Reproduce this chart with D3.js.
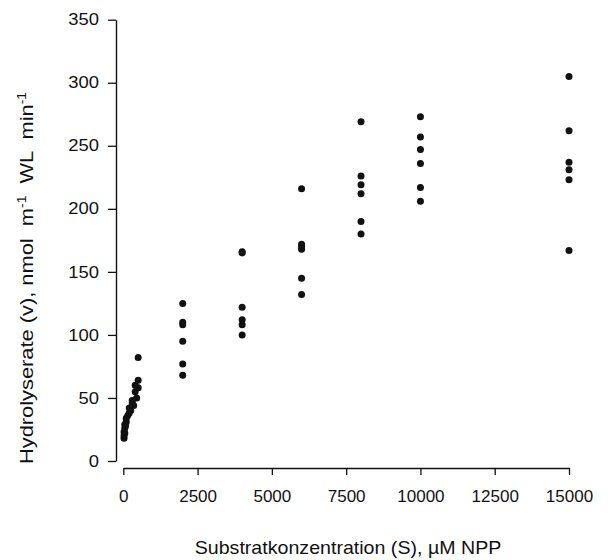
<!DOCTYPE html>
<html><head><meta charset="utf-8">
<script src="https://cdn.jsdelivr.net/npm/d3@7"></script>
<style>
body{margin:0;background:#fff}
svg text{font-family:"Liberation Sans",Arial,Helvetica,sans-serif}
</style></head>
<body><svg id="c" width="608" height="560"></svg>
<script>
// ---- data ----
const lowConc  = [25,25,25,50,50,50,75,100,100,150,200,200,250,300,300,350,400,400,450,500,500,500];
const lowRates = [18,20,23,22,26,29,28,31,34,36,38,42,40,46,48,44,55,60,50,58,64,82];
const concentrations = [2000, 4000, 6000, 8000, 10000, 15000];
const rates2000  = [125,110,108,95,77,68];
const rates4000  = [166,165,122,112,108,100];
const rates6000  = [216,172,170,168,145,132];
const rates8000  = [269,226,219,212,190,180];
const rates10000 = [273,257,247,236,217,206];
const rates15000 = [305,262,237,231,223,167];
const xTicks = [0,2500,5000,7500,10000,12500,15000];
const yTicks = [0,50,100,150,200,250,300,350];
const xTitle = "Substratkonzentration (S), µM NPP";

const columns = [rates2000, rates4000, rates6000, rates8000, rates10000, rates15000];
const points = [];
lowConc.forEach((s,i)=>points.push({s, v: lowRates[i]}));
concentrations.forEach((s,i)=>columns[i].forEach(v=>points.push({s, v})));

// ---- chart ----
const svg = d3.select('#c');
const x = d3.scaleLinear().domain([0,15000]).range([123.3,569]);
const y = d3.scaleLinear().domain([0,350]).range([461,19.7]);
const ink = '#111';
const ff = '"Liberation Sans",Arial,Helvetica,sans-serif';

const gy = svg.append('g').attr('transform','translate(116,0)')
  .call(d3.axisLeft(y).tickValues(yTicks).tickSize(8).tickPadding(8).tickSizeOuter(0))
  .attr('font-family', ff).attr('font-size', 16).attr('color', ink);
gy.select('.domain').attr('stroke-width',1.4);
gy.selectAll('.tick line').attr('stroke-width',1.3);
const sy = 1.15;
gy.selectAll('.tick text').attr('x', -17/sy).attr('transform', `scale(${sy},1)`);

const gx = svg.append('g').attr('transform','translate(0,468)')
  .call(d3.axisBottom(x).tickValues(xTicks).tickSize(7).tickSizeOuter(0).tickFormat(d3.format('d')))
  .attr('font-family', ff).attr('font-size', 17).attr('color', ink);
gx.select('.domain').attr('stroke-width',1.4);
gx.selectAll('.tick line').attr('stroke-width',1.3);
gx.selectAll('.tick text').attr('y', 34).attr('dy', 0);

svg.append('g').selectAll('circle').data(points).join('circle')
  .attr('cx', d=>x(d.s)).attr('cy', d=>y(d.v)).attr('r', 3.5).attr('fill', ink);

svg.append('text').attr('transform','translate(348,554) scale(1.09,1)')
  .attr('text-anchor','middle').attr('font-size',18).attr('fill',ink).text(xTitle);

const yt = svg.append('text').attr('transform','translate(33,278) rotate(-90) scale(1.15,1)')
  .attr('text-anchor','middle').attr('font-size',19).attr('fill',ink).style('white-space','pre');
yt.append('tspan').text('Hydrolyserate (v), nmol  m');
yt.append('tspan').attr('font-size',12).attr('dy',-7).text('-1');
yt.append('tspan').attr('dy',7).text('  WL  min');
yt.append('tspan').attr('font-size',12).attr('dy',-7).text('-1');
</script></body></html>
